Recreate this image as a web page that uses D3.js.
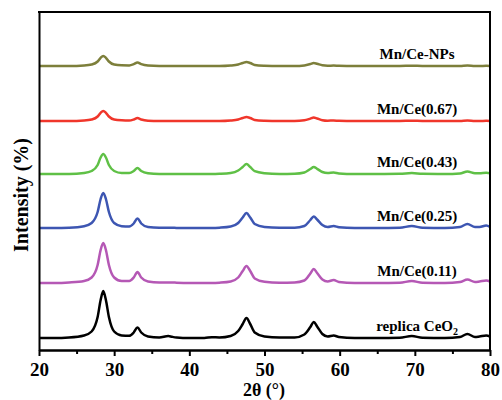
<!DOCTYPE html>
<html>
<head>
<meta charset="utf-8">
<script src="https://cdn.jsdelivr.net/npm/d3@7"></script>
<style>
    body { margin: 0; background: #fff; }
    .axis path, .axis line { stroke: #000; stroke-width: 2; }
</style>
</head>
<body>
<svg width="502" height="400"></svg>
<script>
// 2theta grid shared by all patterns
const twoTheta = [20, 22, 24, 26, 27, 27.8, 28.2, 28.55, 28.9, 29.3, 30, 31, 32, 32.6, 33.1, 33.6, 34.5, 36, 37.2, 37.7, 38.3, 40, 42, 43, 44, 45.5, 46.5, 47.1, 47.6, 48.1, 48.7, 50, 52, 54, 55.3, 56.1, 56.55, 57, 57.7, 58.4, 59.2, 59.9, 62, 65, 68, 69.6, 71, 74, 76, 77, 78, 78.6, 79.5, 80];

const names = ['replica CeO2', 'Mn/Ce(0.11)', 'Mn/Ce(0.25)', 'Mn/Ce(0.43)', 'Mn/Ce(0.67)', 'Mn/Ce-NPs'];
const colors = ['#000000', '#b558b5', '#3d56b2', '#5fc046', '#f0362b', '#7d7f3b'];
const offsets = [12, 67, 122, 176, 229, 284];

const replica = [0, 0, 0.5, 2.5, 6.5, 21, 38, 47, 38, 21, 6.5, 2.5, 2.2, 5.5, 10.5, 5.5, 1.5, 0.5, 2, 1.2, 0.5, 0, 0, 0.8, 0.5, 2, 7, 14, 20, 14, 5.5, 1.5, 0.5, 0.5, 3.5, 11, 16, 11.5, 4, 1.5, 2.5, 1, 0, 0, 0.3, 2, 0.3, 0, 1, 4, 1, 1.5, 2.5, 1.5];
const mn011 = [0, 0, 0.5, 2, 5.5, 18, 33, 40, 33, 18, 5.5, 2, 2, 5.5, 11, 5.5, 1.5, 0.5, 0.5, 0.5, 0.3, 0, 0, 0, 0.3, 1.5, 5.5, 12, 17, 12, 4.5, 1.2, 0.3, 0.5, 2.5, 9.5, 14, 10, 3.5, 1.5, 3, 1, 0, 0, 0.3, 2, 0.3, 0, 1, 3.5, 1, 1.5, 2.5, 1.5];
const mn025 = [0, 0, 0.3, 1.8, 5, 16, 29, 35, 29, 16, 5, 1.8, 1.5, 4.5, 9.5, 4.5, 1, 0.3, 0.3, 0.3, 0, 0, 0, 0, 0.3, 1.5, 5, 10.5, 15, 10.5, 4, 1, 0.3, 0.3, 2, 8, 11.5, 8.5, 3, 1, 2, 0.8, 0, 0, 0.3, 2, 0.3, 0, 1, 4, 1, 1, 2.5, 1];
const mn043 = [0, 0, 0, 1, 3, 9, 16.5, 20, 16.5, 9, 3, 1, 1, 3, 6, 3, 0.8, 0, 0, 0, 0, 0, 0, 0, 0.2, 1, 3.5, 7, 10, 7, 2.8, 0.8, 0, 0.2, 1.5, 5, 7, 5.2, 2, 1, 1.5, 0.5, 0, 0, 0.2, 1, 0.2, 0, 0.5, 2.5, 0.8, 0.8, 1.2, 0.8];
const mn067 = [0, 0, 0, 0.5, 1.5, 4.5, 8.2, 10, 8.2, 4.5, 1.5, 0.7, 0.5, 1.5, 3, 1.5, 0.3, 0, 0, 0, 0, 0, 0, 0, 0, 0.5, 1.5, 3, 4, 3, 1, 0.3, 0, 0, 0.7, 2.4, 3.5, 2.5, 0.8, 0.3, 0.5, 0.2, 0, 0, 0, 0.3, 0, 0, 0, 0.5, 0, 0, 0.2, 0];
const mnNPs = [0, 0, 0, 0.5, 1.5, 4.5, 8.2, 10, 8.2, 4.5, 1.5, 0.7, 0.6, 1.8, 3.5, 1.8, 0.4, 0, 0, 0, 0, 0, 0, 0, 0, 0.5, 1.5, 3, 4, 3, 1, 0.3, 0, 0, 0.6, 2, 3, 2.2, 0.7, 0.3, 0.4, 0.2, 0, 0, 0, 0.3, 0, 0, 0, 0.5, 0, 0, 0.2, 0];

const xTicks = [20, 30, 40, 50, 60, 70, 80];
const xMinor = [25, 35, 45, 55, 65, 75];

const patterns = [replica, mn011, mn025, mn043, mn067, mnNPs];
const fontFam = "'Liberation Serif', 'Times New Roman', 'DejaVu Serif', serif";

const svg = d3.select('svg');

const x = d3.scaleLinear().domain([20, 80]).range([39, 490]);
const y = d3.scaleLinear().domain([0, 338]).range([350, 12]);

const line = d3.line()
    .x((d) => x(d[0]))
    .y((d) => y(d[1]))
    .curve(d3.curveMonotoneX);

patterns.forEach((vals, i) => {
    const pts = twoTheta.map((t, j) => [t, vals[j] + offsets[i]]);
    svg.append('path')
        .datum(pts)
        .attr('fill', 'none')
        .attr('stroke', colors[i])
        .attr('stroke-width', 2.5)
        .attr('stroke-linejoin', 'round')
        .attr('d', line);
});

// series labels
names.forEach((n, i) => {
    const t = svg.append('text')
        .attr('x', x(70.3))
        .attr('y', y(offsets[i]) - 7)
        .attr('text-anchor', 'middle')
        .style('font-family', fontFam)
        .style('font-weight', 'bold')
        .style('font-size', '15px');
    if (n === 'replica CeO2') {
        t.append('tspan').text('replica CeO');
        t.append('tspan').attr('dy', 4).style('font-size', '10px').text('2');
    } else {
        t.text(n);
    }
});

// frame
svg.append('line').attr('x1', 38).attr('x2', 491).attr('y1', 12).attr('y2', 12)
    .attr('stroke', '#000').attr('stroke-width', 2);
svg.append('line').attr('x1', 490).attr('x2', 490).attr('y1', 11).attr('y2', 351)
    .attr('stroke', '#000').attr('stroke-width', 2);

svg.append('g')
    .attr('class', 'axis')
    .attr('transform', 'translate(39,0)')
    .call(d3.axisLeft(y).tickValues([]).tickSizeOuter(0));

svg.append('g')
    .attr('class', 'axis')
    .attr('transform', 'translate(0,350)')
    .call(d3.axisBottom(x).tickValues(xMinor).tickSize(4).tickFormat('').tickSizeOuter(0));

const xAxis = svg.append('g')
    .attr('class', 'axis')
    .attr('transform', 'translate(0,350)')
    .call(d3.axisBottom(x).tickValues(xTicks).tickSize(6).tickPadding(7).tickSizeOuter(0));

xAxis.selectAll('text')
    .style('font-family', fontFam)
    .style('font-weight', 'bold')
    .style('font-size', '19px')
    .style('fill', '#000');

svg.append('text')
    .attr('x', 264)
    .attr('y', 396)
    .attr('text-anchor', 'middle')
    .style('font-family', fontFam)
    .style('font-weight', 'bold')
    .style('font-size', '18px')
    .text('2θ (°)');

svg.append('text')
    .attr('transform', 'translate(28,195) rotate(-90)')
    .attr('text-anchor', 'middle')
    .style('font-family', fontFam)
    .style('font-weight', 'bold')
    .style('font-size', '20px')
    .text('Intensity (%)');
</script>
</body>
</html>
